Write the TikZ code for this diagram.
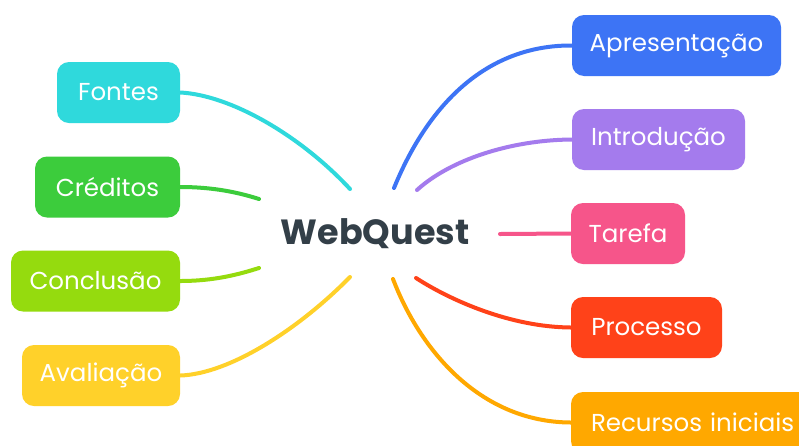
\documentclass[tikz,border=0pt]{standalone}
\usepackage{fontspec}
\setmainfont{Poppins}
\definecolor{cApr}{HTML}{3D74F5}
\definecolor{cInt}{HTML}{A47BED}
\definecolor{cTar}{HTML}{F6558A}
\definecolor{cPro}{HTML}{FF4219}
\definecolor{cRec}{HTML}{FFA800}
\definecolor{cFon}{HTML}{2FD9DC}
\definecolor{cCre}{HTML}{3CCC3C}
\definecolor{cCon}{HTML}{95DB0E}
\definecolor{cAva}{HTML}{FFD12A}
\definecolor{cTxt}{HTML}{333F48}
\tikzset{
  box/.style={rounded corners=12pt, inner sep=0pt, minimum height=61pt, text=white,
    font=\fontsize{24.5}{24.5}\selectfont},
  link/.style={line width=4pt, line cap=round},
}
\begin{document}
\begin{tikzpicture}[x=1pt,y=-1pt]
\path[use as bounding box] (0,0) rectangle (799,445);
\clip (0,0) rectangle (799,445);
\fill[white] (0,0) rectangle (799,445);
% centre
\node[font=\bfseries\fontsize{35}{35}\selectfont, text=cTxt, inner sep=0pt] (wq) at (375,234) {WebQuest};
\coordinate (sApr) at (394,188);
\coordinate (sInt) at (417,190);
\coordinate (sTar) at (500,234);
\coordinate (sPro) at (416,278);
\coordinate (sRec) at (393,279);
\coordinate (sFon) at (350,189);
\coordinate (sCre) at (259,199);
\coordinate (sCon) at (259,268);
\coordinate (sAva) at (350,277);
% boxes
\node[box, fill=cApr, minimum width=209pt] (apr) at (676.5,45.5) {Apresentação};
\node[box, fill=cInt, minimum width=173pt] (int) at (658.5,139.5) {Introdução};
\node[box, fill=cTar, minimum width=114pt] (tar) at (628,233.5) {Tarefa};
\node[box, fill=cPro, minimum width=151pt] (pro) at (646.5,327.5) {Processo};
\node[box, fill=cRec, minimum width=260pt, text width=220pt, align=left] (rec) at (701,422.5) {Recursos iniciais};
\node[box, fill=cFon, minimum width=123pt] (fon) at (118.5,92.5) {Fontes};
\node[box, fill=cCre, minimum width=145pt] (cre) at (107.5,187) {Créditos};
\node[box, fill=cCon, minimum width=169pt] (con) at (95.5,281) {Conclusão};
\node[box, fill=cAva, minimum width=158pt] (ava) at (101,375.5) {Avaliação};
% connectors
\draw[link, cApr] (sApr) .. controls (430,100) and (490,45) .. (apr.west);
\draw[link, cInt] (sInt) .. controls (450,160) and (510,140) .. (int.west);
\draw[link, cTar] (sTar) -- (tar.west);
\draw[link, cPro] (sPro) .. controls (450,300) and (510,327) .. (pro.west);
\draw[link, cRec] (sRec) .. controls (420,350) and (480,422) .. (rec.west);
\draw[link, cFon] (fon.east) .. controls (230,95) and (300,135) .. (sFon);
\draw[link, cCre] (cre.east) .. controls (215,187) and (240,193) .. (sCre);
\draw[link, cCon] (con.east) .. controls (215,281) and (240,274) .. (sCon);
\draw[link, cAva] (ava.east) .. controls (230,374) and (300,328) .. (sAva);
\end{tikzpicture}
\end{document}
